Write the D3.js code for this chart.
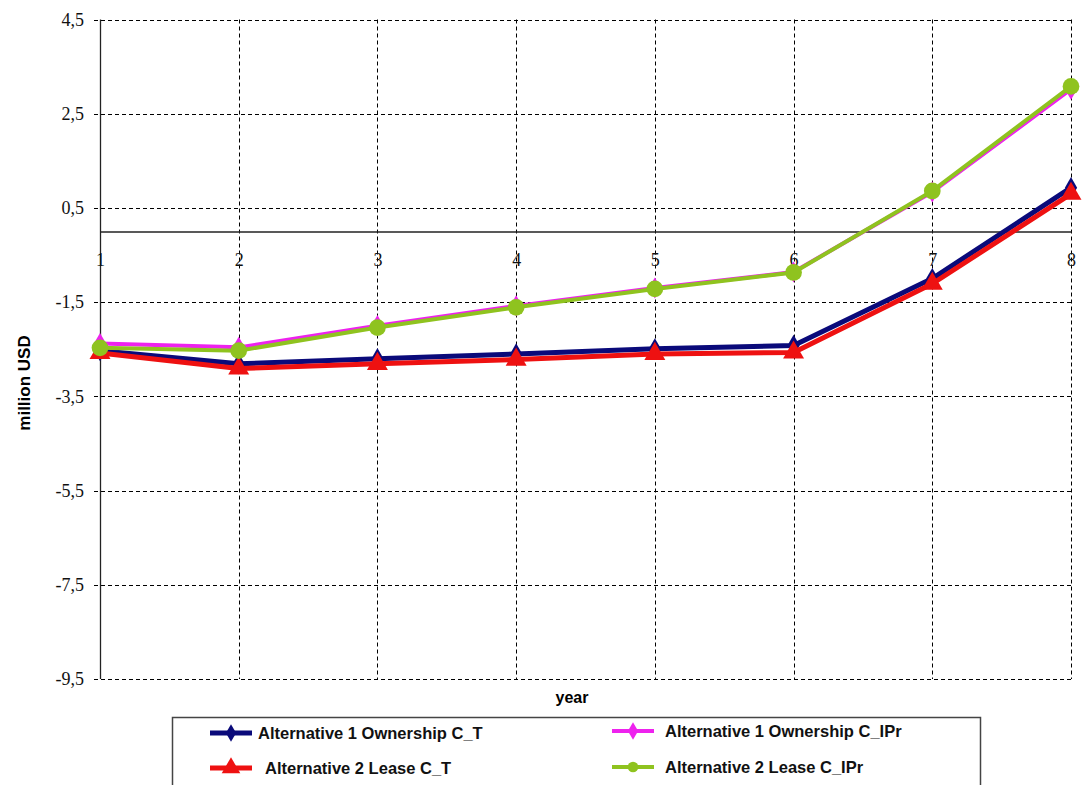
<!DOCTYPE html>
<html><head><meta charset="utf-8">
<script src="https://cdn.jsdelivr.net/npm/d3@7"></script>
<style>body{margin:0;background:#fff}svg{display:block}</style>
</head><body>
<script>
const years = [1,2,3,4,5,6,7,8];
const alt1OwnCT  = [-2.53,-2.81,-2.70,-2.60,-2.49,-2.42,-1.00,0.93];
const alt2LeaseCT = [-2.58,-2.91,-2.81,-2.72,-2.60,-2.57,-1.11,0.80];
const alt1OwnCIPr = [-2.38,-2.46,-2.00,-1.58,-1.20,-0.86,0.84,3.02];
const alt2LeaseCIPr = [-2.47,-2.53,-2.04,-1.61,-1.22,-0.87,0.86,3.08];
const yTicks = [4.5,2.5,0.5,-1.5,-3.5,-5.5,-7.5,-9.5];
const seriesNames = ["Alternative 1 Ownership C_T","Alternative 2 Lease C_T","Alternative 1 Ownership C_IPr","Alternative 2 Lease C_IPr"];

const W=1087,H=785;
const svg=d3.select("body").append("svg").attr("width",W).attr("height",H);
const x=d3.scaleLinear().domain([1,8]).range([100,1071]);
const y=d3.scaleLinear().domain([-9.5,4.5]).range([679,19.5]);
const serif="Liberation Serif, Times New Roman, serif";
const sans="Liberation Sans, Arial, sans-serif";

// horizontal grid
svg.append("g").selectAll("line").data(yTicks).join("line")
  .attr("x1",94).attr("x2",x(8)).attr("y1",d=>Math.round(y(d))+0.5).attr("y2",d=>Math.round(y(d))+0.5)
  .attr("stroke","#000").attr("stroke-width",1).attr("stroke-dasharray","4,3");
// vertical grid
svg.append("g").selectAll("line").data(years.slice(1)).join("line")
  .attr("x1",d=>Math.round(x(d))+0.5).attr("x2",d=>Math.round(x(d))+0.5).attr("y1",y(4.5)).attr("y2",y(-9.5))
  .attr("stroke","#000").attr("stroke-width",1).attr("stroke-dasharray","4,3");
// y axis
const yAxis=d3.axisLeft(y).tickValues(yTicks).tickSize(0).tickPadding(16)
  .tickFormat(d=>String(d).replace(".",","));
const gy=svg.append("g").attr("transform","translate(100,0)").call(yAxis);
gy.select(".domain").remove();
gy.selectAll("text").attr("font-family",serif).attr("font-size",18).attr("fill","#111");
svg.append("line").attr("x1",100.5).attr("x2",100.5).attr("y1",y(4.5)).attr("y2",y(-9.5)).attr("stroke","#222").attr("stroke-width",1.3);
// x axis at zero
const xAxis=d3.axisBottom(x).tickValues(years).tickSize(0).tickPadding(22).tickFormat(d3.format("d"));
const gx=svg.append("g").attr("transform",`translate(0,${y(0)})`).call(xAxis);
gx.select(".domain").attr("stroke","#222").attr("stroke-width",1.3);
gx.selectAll("text").attr("font-family",serif).attr("font-size",18).attr("fill","#111");

// axis titles
svg.append("text").attr("x",572).attr("y",703).attr("text-anchor","middle")
  .attr("font-family",sans).attr("font-weight","bold").attr("font-size",16).text("year");
svg.append("text").attr("transform","translate(30,383) rotate(-90)").attr("text-anchor","middle")
  .attr("font-family",sans).attr("font-weight","bold").attr("font-size",17).text("million USD");

const line=d3.line().x((d,i)=>x(years[i])).y(d=>y(d));
const series=[
  {name:seriesNames[0],vals:alt1OwnCT,color:"#0a0a7a",w:5,marker:"diamond"},
  {name:seriesNames[1],vals:alt2LeaseCT,color:"#ee1111",w:5,marker:"triangle"},
  {name:seriesNames[2],vals:alt1OwnCIPr,color:"#ee22ee",w:4,marker:"diamond"},
  {name:seriesNames[3],vals:alt2LeaseCIPr,color:"#8fc31f",w:4,marker:"circle"}
];
const symType={diamond:d3.symbolDiamond,triangle:d3.symbolTriangle,circle:d3.symbolCircle};
const symSize={diamond:130,triangle:190,circle:220};
series.forEach(s=>{
  svg.append("path").datum(s.vals).attr("d",line).attr("fill","none")
    .attr("stroke",s.color).attr("stroke-width",s.w).attr("stroke-linejoin","round");
  svg.append("g").selectAll("path").data(s.vals).join("path")
    .attr("transform",(d,i)=>`translate(${x(years[i])},${y(d)})`)
    .attr("d",d3.symbol().type(symType[s.marker]).size(symSize[s.marker])()).attr("fill",s.color);
});

// legend
const lg=svg.append("g");
lg.append("rect").attr("x",172.5).attr("y",717.5).attr("width",808).attr("height",80)
  .attr("fill","#fff").attr("stroke","#444").attr("stroke-width",1.5);
const pos=[[210,733,258],[210,768,265],[612,731,665],[612,767,665]];
series.forEach((s,i)=>{
  const [lx,ly,tx]=pos[i];
  lg.append("line").attr("x1",lx).attr("x2",lx+42).attr("y1",ly).attr("y2",ly)
    .attr("stroke",s.color).attr("stroke-width",s.w);
  lg.append("path").attr("transform",`translate(${lx+21},${ly})`)
    .attr("d",d3.symbol().type(symType[s.marker]).size(s.marker==="triangle"?150:90)())
    .attr("fill",s.color);
  lg.append("text").attr("x",tx).attr("y",ly+6).attr("font-family",sans)
    .attr("font-weight","bold").attr("font-size",16.5).attr("fill","#111").text(s.name);
});
</script>
</body></html>
